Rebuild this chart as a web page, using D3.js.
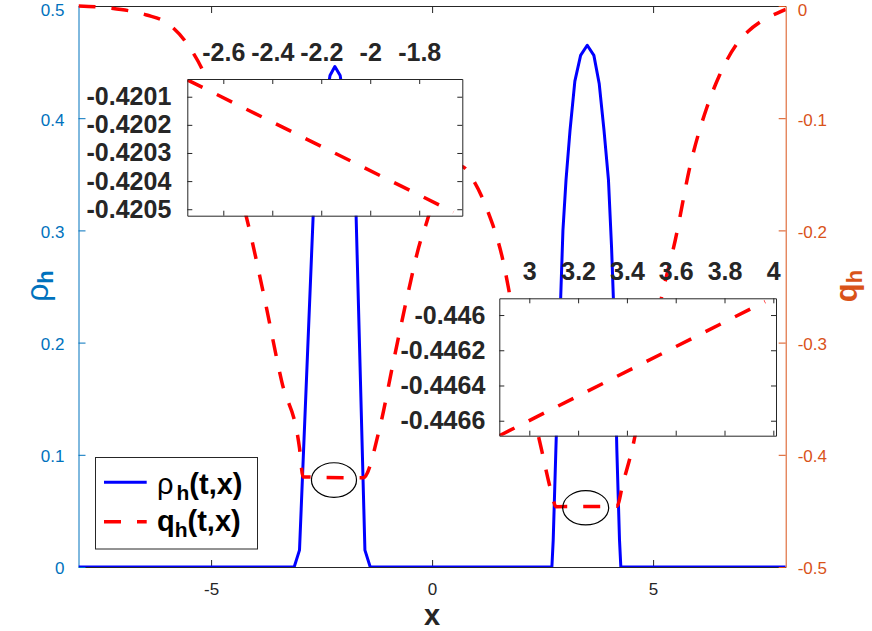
<!DOCTYPE html>
<html>
<head>
<meta charset="utf-8">
<script src="https://cdn.jsdelivr.net/npm/d3@7"></script>
<style>
  html, body { margin: 0; padding: 0; background: #fff; }
  svg { display: block; font-family: "Liberation Sans", Arial, Helvetica, sans-serif; }
</style>
</head>
<body>
<svg id="chart" width="872" height="631"></svg>
<script>
// ---------------- data ----------------
const xTicks = [-5, 0, 5];
const rhoTicks = [0, 0.1, 0.2, 0.3, 0.4, 0.5];
const qTicks = [-0.5, -0.4, -0.3, -0.2, -0.1, 0];

const rhoX = [-8, -3.12, -3.0, -2.69, -2.5, -2.31, -2.2, -2.08, -1.9, -1.72, -1.52, -1.4,
              2.71, 2.74, 2.80, 2.91, 2.96, 3.03, 3.12, 3.23, 3.36, 3.51, 3.66, 3.78, 3.89,
              3.99, 4.06, 4.10, 4.18, 4.24, 4.27, 8];
const rhoY = [0, 0, 0.015, 0.314, 0.39, 0.438, 0.446, 0.438, 0.39, 0.314, 0.015, 0,
              0, 0.024, 0.104, 0.241, 0.300, 0.345, 0.389, 0.433, 0.456, 0.465, 0.456, 0.431, 0.389,
              0.345, 0.285, 0.241, 0.104, 0.024, 0, 0];

const qX = [-8, -7.25, -6.46, -6.00, -5.52, -5.14, -4.64, -4.14, -3.80, -3.40, -3.00, -2.92,
            -1.56, -1.18, -0.88, -0.54, -0.26, -0.14, 0.13, 0.41, 0.68, 0.93, 1.25, 1.61, 1.76,
            2.10, 2.48, 2.65, 2.74, 2.80, 4.18, 4.32, 4.52, 4.85, 5.20, 5.50, 5.84, 6.22, 6.50,
            6.89, 7.14, 7.47, 7.80, 8];
const qY = [0, -0.002, -0.008, -0.015, -0.035, -0.062, -0.125, -0.198, -0.259, -0.335, -0.394, -0.4197,
            -0.4205, -0.375, -0.318, -0.255, -0.209, -0.195, -0.160, -0.142, -0.143, -0.155, -0.182, -0.228, -0.258,
            -0.33, -0.396, -0.426, -0.440, -0.4462, -0.4458, -0.425, -0.396, -0.329, -0.258, -0.209, -0.142, -0.090, -0.062,
            -0.034, -0.023, -0.013, -0.0065, -0.003];

// zoom insets
const inset1XTicks = [-2.6, -2.4, -2.2, -2, -1.8];
const inset1YTicks = [-0.4201, -0.4202, -0.4203, -0.4204, -0.4205];
const inset1X = [-2.747, -1.66];
const inset1Q = [-0.42004, -0.42051];

const inset2XTicks = [3, 3.2, 3.4, 3.6, 3.8, 4];
const inset2YTicks = [-0.446, -0.4462, -0.4464, -0.4466];
const inset2X = [2.877, 3.966];
const inset2Q = [-0.446685, -0.445924];

// ellipse annotations (data units)
const ellX = [-2.22, 3.475];
const ellQ = [-0.4225, -0.4472];
const ellRX = [0.51, 0.52];
const ellRQ = [0.0154, 0.0153];

const legendLabels = [["ρ", "h", "(t,x)"], ["q", "h", "(t,x)"]];

// ---------------- chart ----------------
const svg = d3.select("#chart");
const BLUE_AX = "#0072BD", ORANGE_AX = "#D95319", DARK = "#262626";

const L = 78.5, R = 785.7, T = 6, B = 567;
const x = d3.scaleLinear([-8, 8], [L, R]);
const yL = d3.scaleLinear([0, 0.5], [B, T]);
const yR = d3.scaleLinear([-0.5, 0], [B, T]);

svg.append("defs").append("clipPath").attr("id", "plotclip")
  .append("rect").attr("x", L).attr("y", T - 3).attr("width", R - L).attr("height", B - T + 3);

const fmt = d => String(d);

// axes
const gB = svg.append("g").attr("transform", `translate(0,${B})`)
  .call(d3.axisBottom(x).tickValues(xTicks).tickSize(-7).tickSizeOuter(0).tickPadding(16).tickFormat(fmt));
const gT = svg.append("g").attr("transform", `translate(0,${T})`)
  .call(d3.axisTop(x).tickValues(xTicks).tickSize(-7).tickSizeOuter(0).tickFormat(""));
[gB, gT].forEach(g => {
  g.select(".domain").attr("stroke", DARK);
  g.selectAll(".tick line").attr("stroke", DARK);
  g.selectAll("text").attr("fill", DARK).attr("font-size", 17);
});
const gL = svg.append("g").attr("transform", `translate(${L},0)`)
  .call(d3.axisLeft(yL).tickValues(rhoTicks).tickSize(-7).tickSizeOuter(0).tickPadding(14).tickFormat(fmt));
gL.select(".domain").attr("stroke", BLUE_AX);
gL.selectAll(".tick line").attr("stroke", BLUE_AX);
gL.selectAll("text").attr("fill", BLUE_AX).attr("font-size", 17)
  .attr("dy", d => d === 0.5 ? "0.55em" : "0.4em");

const gR = svg.append("g").attr("transform", `translate(${R},0)`)
  .call(d3.axisRight(yR).tickValues(qTicks).tickSize(-7).tickSizeOuter(0).tickPadding(12).tickFormat(fmt));
gR.select(".domain").attr("stroke", ORANGE_AX);
gR.selectAll(".tick line").attr("stroke", ORANGE_AX);
gR.selectAll("text").attr("fill", ORANGE_AX).attr("font-size", 17)
  .attr("dy", d => d === 0 ? "0.55em" : "0.4em");

// axis labels
svg.append("text").attr("x", 432).attr("y", 625).attr("text-anchor", "middle")
  .attr("font-size", 29).attr("font-weight", "bold").attr("fill", DARK).text("x");

const ylab = svg.append("text").attr("transform", "translate(48,286) rotate(-90)")
  .attr("text-anchor", "middle").attr("fill", BLUE_AX).attr("font-size", 32);
ylab.append("tspan").text("ρ");
ylab.append("tspan").attr("font-size", 22).attr("font-weight", "bold").attr("dy", 5).text("h");

const qlab = svg.append("text").attr("transform", "translate(857,286) rotate(-90)")
  .attr("text-anchor", "middle").attr("fill", ORANGE_AX).attr("font-size", 31).attr("font-weight", "bold");
qlab.append("tspan").text("q");
qlab.append("tspan").attr("font-size", 22).attr("dy", 5).text("h");

// series
const plot = svg.append("g").attr("clip-path", "url(#plotclip)");
const rhoData = rhoX.map((d, i) => [d, rhoY[i]]);
const qData = qX.map((d, i) => [d, qY[i]]);

plot.append("path").datum(rhoData)
  .attr("d", d3.line().x(d => x(d[0])).y(d => yL(d[1])))
  .attr("fill", "none").attr("stroke", "#0000FF").attr("stroke-width", 3).attr("stroke-linejoin", "round");

plot.append("path").datum(qData)
  .attr("d", d3.line().x(d => x(d[0])).y(d => yR(d[1])).curve(d3.curveMonotoneX))
  .attr("fill", "none").attr("stroke", "#FF0000").attr("stroke-width", 3.5)
  .attr("stroke-dasharray", "17,16");

// ellipses
ellX.forEach((ex, i) => {
  svg.append("ellipse")
    .attr("cx", x(ex)).attr("cy", yR(ellQ[i]))
    .attr("rx", x(ex + ellRX[i]) - x(ex))
    .attr("ry", yR(ellQ[i]) - yR(ellQ[i] + ellRQ[i]))
    .attr("fill", "none").attr("stroke", "#000").attr("stroke-width", 1.2);
});

// legend
const lg = svg.append("g");
lg.append("rect").attr("x", 95.5).attr("y", 457.5).attr("width", 162).attr("height", 91.5)
  .attr("fill", "#fff").attr("stroke", DARK).attr("stroke-width", 1);
lg.append("line").attr("x1", 104).attr("x2", 146.7).attr("y1", 482.3).attr("y2", 482.3)
  .attr("stroke", "#0000FF").attr("stroke-width", 3);
lg.append("line").attr("x1", 104).attr("x2", 146.7).attr("y1", 521.7).attr("y2", 521.7)
  .attr("stroke", "#FF0000").attr("stroke-width", 3.5).attr("stroke-dasharray", "17,16");
legendLabels.forEach((lab, i) => {
  const t = lg.append("text").attr("x", 157).attr("y", i === 0 ? 494 : 531)
    .attr("font-size", 29).attr("fill", "#000");
  t.append("tspan").attr("font-weight", i === 0 ? "normal" : "bold").text(lab[0]);
  t.append("tspan").attr("font-weight", "bold").attr("font-size", 21).attr("dx", i === 0 ? 3 : 0).attr("dy", 6).text(lab[1]);
  t.append("tspan").attr("font-weight", "bold").attr("dy", -6).text(lab[2]);
});

// insets
function inset(id, box, xd, yd, xt, yt, lx, ly, ypad) {
  const ix = d3.scaleLinear(xd, [box.l, box.r]);
  const iy = d3.scaleLinear(yd, [box.b, box.t]);
  const g = svg.append("g");
  g.append("rect").attr("x", box.l).attr("y", box.t).attr("width", box.r - box.l).attr("height", box.b - box.t)
    .attr("fill", "#fff");
  g.append("defs").append("clipPath").attr("id", id)
    .append("rect").attr("x", box.l).attr("y", box.t).attr("width", box.r - box.l).attr("height", box.b - box.t);
  g.append("path").datum(lx.map((d, i) => [d, ly[i]]))
    .attr("clip-path", `url(#${id})`)
    .attr("d", d3.line().x(d => ix(d[0])).y(d => iy(d[1])))
    .attr("fill", "none").attr("stroke", "#FF0000").attr("stroke-width", 3.5).attr("stroke-dasharray", "17,16");
  const axes = [
    g.append("g").attr("transform", `translate(0,${box.t})`)
      .call(d3.axisTop(ix).tickValues(xt).tickSize(-5).tickSizeOuter(0).tickPadding(18).tickFormat(fmt)),
    g.append("g").attr("transform", `translate(0,${box.b})`)
      .call(d3.axisBottom(ix).tickValues(xt).tickSize(-5).tickSizeOuter(0).tickFormat("")),
    g.append("g").attr("transform", `translate(${box.l},0)`)
      .call(d3.axisLeft(iy).tickValues(yt).tickSize(-5).tickSizeOuter(0).tickPadding(ypad).tickFormat(fmt)),
    g.append("g").attr("transform", `translate(${box.r},0)`)
      .call(d3.axisRight(iy).tickValues(yt).tickSize(-5).tickSizeOuter(0).tickFormat(""))
  ];
  axes.forEach(a => {
    a.select(".domain").attr("stroke", DARK);
    a.selectAll(".tick line").attr("stroke", DARK);
    a.selectAll("text").attr("fill", DARK).attr("font-size", 25).attr("font-weight", "bold");
  });
}

inset("in1", {l: 187.3, r: 462.3, t: 79, b: 215.7}, [-2.747, -1.624], [-0.420523, -0.420037],
      inset1XTicks, inset1YTicks, inset1X, inset1Q, 16);
inset("in2", {l: 499.3, r: 776, t: 298.3, b: 435.7}, [2.877, 4.011], [-0.446685, -0.445905],
      inset2XTicks, inset2YTicks, inset2X, inset2Q, 14);
</script>
</body>
</html>
